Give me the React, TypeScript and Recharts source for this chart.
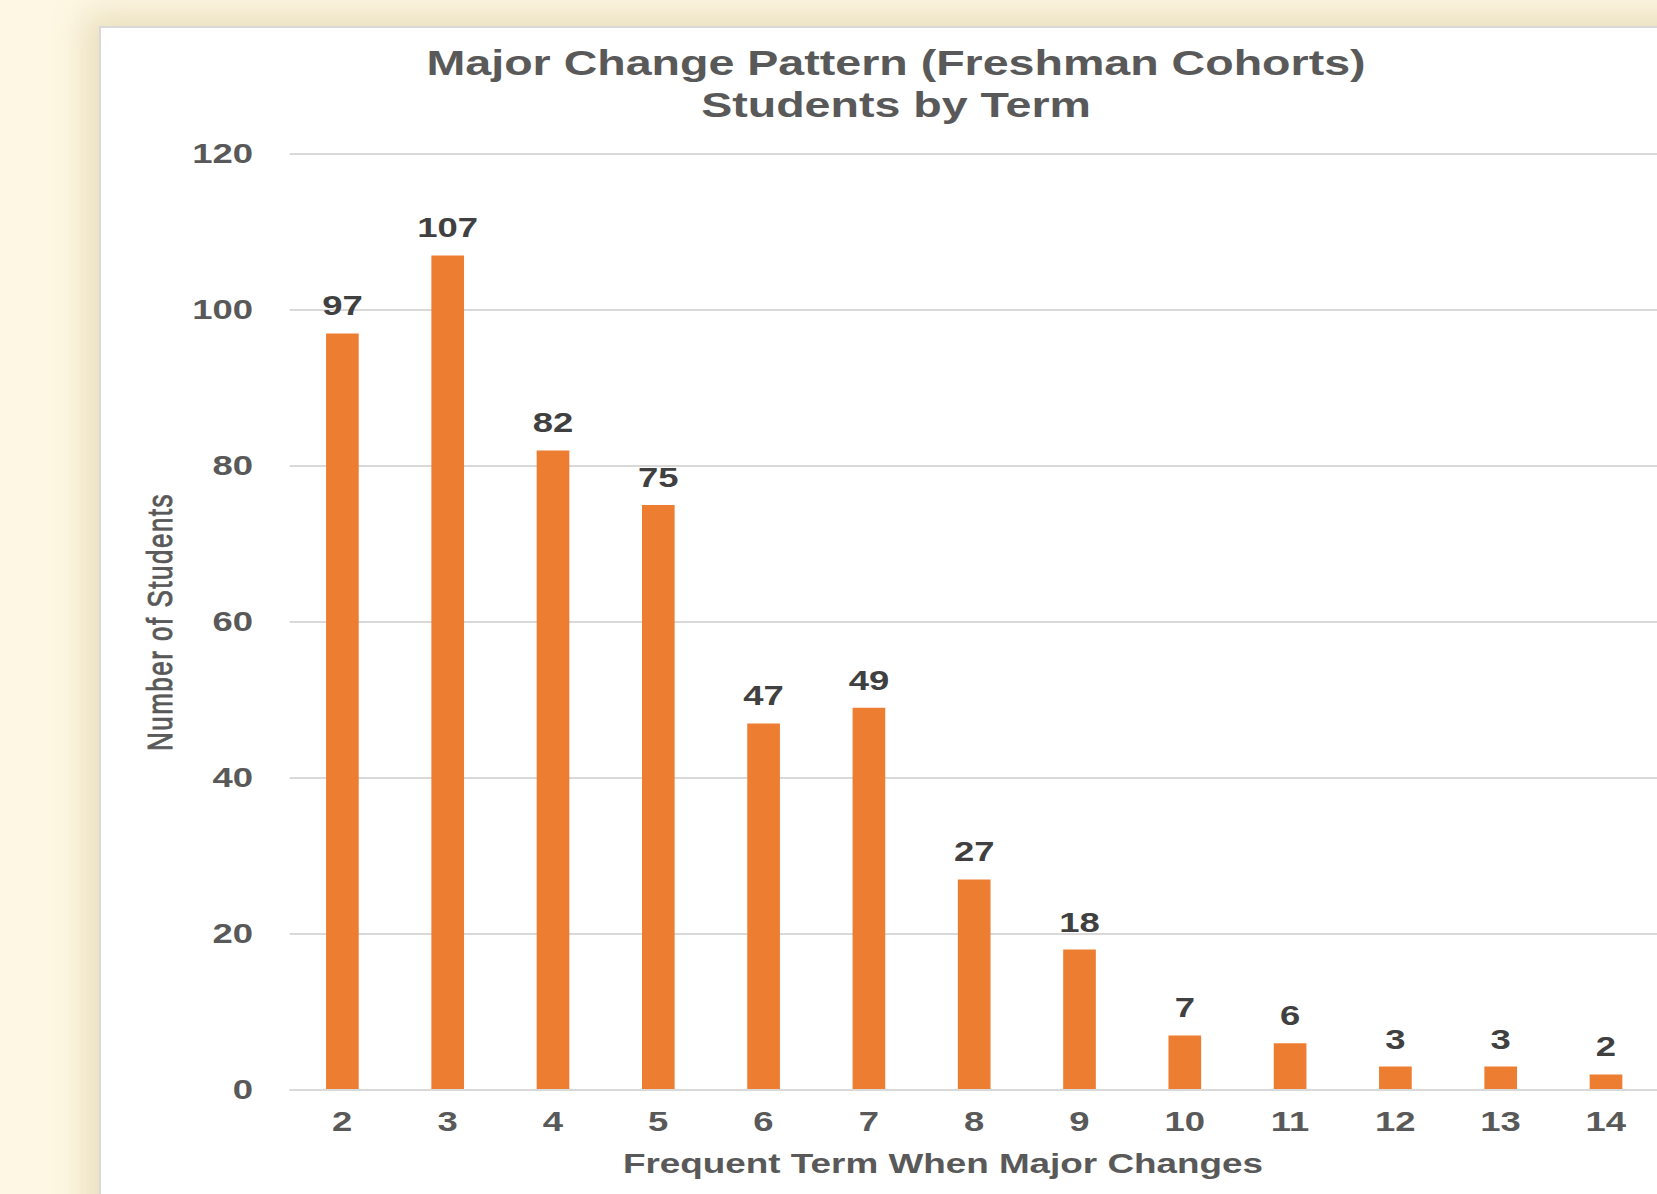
import React from 'react';
import { BarChart, Bar, XAxis, YAxis, CartesianGrid, LabelList, Label } from 'recharts';

const terms: string[] = ['2', '3', '4', '5', '6', '7', '8', '9', '10', '11', '12', '13', '14'];
const students: number[] = [97, 107, 82, 75, 47, 49, 27, 18, 7, 6, 3, 3, 2];
const yTicks: number[] = [0, 20, 40, 60, 80, 100, 120];
const titleLines: string[] = ['Major Change Pattern (Freshman Cohorts)', 'Students by Term'];
const xTitle = 'Frequent Term When Major Changes';
const yTitle = 'Number of Students';

const data = terms.map((t, i) => ({ term: t, students: students[i] }));

const FONT = "'Liberation Sans', Arial, Helvetica, sans-serif";
const SX = 1.35; // horizontal stretch of the original picture
const CHART_W = 1200;
const CHART_H = 1168;

const XTick = (props: any) => {
  const { x, y, payload } = props;
  return (
    <text x={x} y={y + 40.7} textAnchor="middle" fontFamily={FONT} fontWeight="bold" fontSize={27} fill="#595959">
      {payload.value}
    </text>
  );
};

const YTick = (props: any) => {
  const { x, y, payload } = props;
  return (
    <text x={x - 27.1} y={y + 9.5} textAnchor="end" fontFamily={FONT} fontWeight="bold" fontSize={27} fill="#595959">
      {payload.value}
    </text>
  );
};

const BarValue = (props: any) => {
  const { x, y, width, value } = props;
  return (
    <text x={Number(x) + Number(width) / 2} y={Number(y) - 18} textAnchor="middle" fontFamily={FONT} fontWeight="bold" fontSize={27} fill="#404040">
      {value}
    </text>
  );
};

const YTitle = (props: any) => {
  const vb = props.viewBox || {};
  const cx = 44.9;
  const cy = (vb.y ?? 128) + (vb.height ?? 936) / 2;
  return (
    <text
      x={cx}
      y={cy}
      transform={`rotate(-90 ${cx} ${cy})`}
      textAnchor="middle"
      dominantBaseline="central"
      fontFamily={FONT}
      fontSize={26}
      letterSpacing={1.5}
      fill="#595959"
      stroke="#595959"
      strokeWidth={0.7}
    >
      {yTitle}
    </text>
  );
};

const XTitle = (props: any) => {
  const vb = props.viewBox || {};
  return (
    <text x={(vb.x ?? 141.2) + 484} y={(vb.y ?? 1064) + 83.3} textAnchor="middle" fontFamily={FONT} fontWeight="bold" fontSize={27.3} fill="#595959">
      {xTitle}
    </text>
  );
};

export default function App() {
  return (
    <>
      <style>{`html,body{overflow:hidden;}`}</style>
      <div
        style={{
          position: 'absolute',
          left: 0,
          top: 0,
          width: 1657,
          height: 1194,
          overflow: 'hidden',
          background: '#fdf7e3',
        }}
      >
        <div
          style={{
            position: 'absolute',
            left: 99,
            top: 26,
            width: 1700,
            height: 1300,
            background: '#ffffff',
            borderLeft: '2px solid #d9d9d9',
            borderTop: '2px solid #d9d9d9',
            boxSizing: 'border-box',
            boxShadow: '-6px -4px 30px 8px rgba(200,178,120,0.35)',
          }}
        />
        <div
          style={{
            position: 'absolute',
            left: 99,
            top: 26,
            width: CHART_W,
            height: CHART_H,
            transform: `scaleX(${SX})`,
            transformOrigin: '0 0',
          }}
        >
          <svg width={CHART_W} height={140} style={{ position: 'absolute', left: 0, top: 0, pointerEvents: 'none' }}>
            <text x={590.4} y={49} textAnchor="middle" fontFamily={FONT} fontWeight="bold" fontSize={34.5} fill="#595959">
              {titleLines[0]}
            </text>
            <text x={590.4} y={91.5} textAnchor="middle" fontFamily={FONT} fontWeight="bold" fontSize={34.5} fill="#595959">
              {titleLines[1]}
            </text>
          </svg>
          <BarChart
            width={CHART_W}
            height={CHART_H}
            data={data}
            margin={{ top: 128, right: 44.8, left: 81.2, bottom: 44 }}
            style={{ position: 'absolute', left: 0, top: 0 }}
          >
            <CartesianGrid vertical={false} stroke="#d9d9d9" strokeWidth={2} />
            <XAxis
              dataKey="term"
              type="category"
              height={60}
              axisLine={{ stroke: '#d9d9d9', strokeWidth: 2 }}
              tickLine={false}
              tickSize={0}
              tickMargin={0}
              interval={0}
              tick={<XTick />}
            >
              <Label content={<XTitle />} />
            </XAxis>
            <YAxis
              type="number"
              domain={[0, 120]}
              ticks={yTicks}
              width={60}
              axisLine={false}
              tickLine={false}
              tickSize={0}
              tickMargin={0}
              interval={0}
              tick={<YTick />}
            >
              <Label content={<YTitle />} />
            </YAxis>
            <Bar dataKey="students" fill="#ed7d31" barSize={24.2} isAnimationActive={false}>
              <LabelList dataKey="students" content={<BarValue />} />
            </Bar>
          </BarChart>
        </div>
      </div>
    </>
  );
}
